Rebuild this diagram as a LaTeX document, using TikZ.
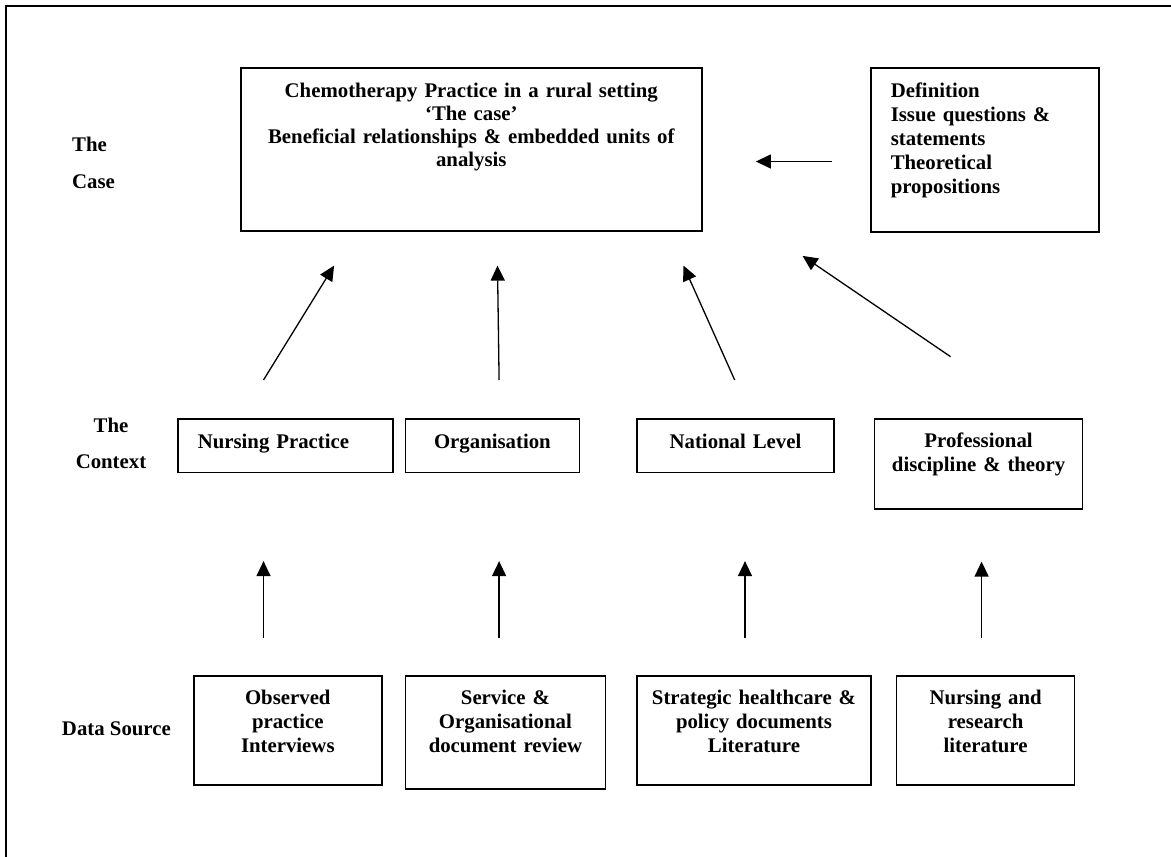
\documentclass[tikz,border=0pt]{standalone}
\usepackage{fontspec}
\setmainfont{Liberation Serif}
\usetikzlibrary{arrows.meta, positioning, calc}

\begin{document}
\begin{tikzpicture}[
    x=1pt, y=-1pt,
    font=\fontsize{20.8}{24}\selectfont\bfseries,
    box/.style={rectangle, draw, line width=1.6pt, inner xsep=4pt, inner ysep=0pt, align=center, text height=29.5pt, anchor=north west},
    rowlabel/.style={inner sep=0pt, text width=#1},
    arr/.style={-{Triangle[length=15pt, width=14pt]}, line width=1.3pt}
]
\useasboundingbox (0,0) rectangle (1171,857);
\draw[line width=1.5pt] (6,6) rectangle (1200,900);

% The case
\node[box, text width=453pt, text height=30pt, text depth=133pt, font=\fontsize{20.8}{23}\selectfont\bfseries] (case) at (240,67) {Chemotherapy Practice in a rural setting\\`The case'\\Beneficial relationships \& embedded units of\\analysis};
\node[box, align=left, inner xsep=20pt, text width=188pt, text height=30pt, text depth=134pt] (def) at (870,67) {Definition\\Issue questions \&\\statements\\Theoretical\\propositions};

% The context
\node[box, align=left, inner xsep=20pt, text width=175pt, text depth=24pt] (nursing) at (177,418) {Nursing Practice};
\node[box, text width=166pt, text depth=24pt, right=11pt of nursing.north east, anchor=north west] (org) {Organisation};
\node[box, text width=189pt, text depth=24pt, right=56pt of org.north east, anchor=north west] (national) {National Level};
\node[box, text width=200pt, text height=29pt, text depth=61pt, right=39pt of national.north east, anchor=north west] (prof) {Professional\\discipline \& theory};

% Data sources
\node[box, text width=180pt, text height=29pt, text depth=80pt] (observed) at (193,675) {Observed\\practice\\Interviews};
\node[box, text width=192pt, text height=29pt, text depth=84pt, right=22pt of observed.north east, anchor=north west] (service) {Service \&\\Organisational\\document review};
\node[box, text width=226pt, text height=29pt, text depth=80pt, right=30pt of service.north east, anchor=north west] (strategic) {Strategic healthcare \&\\policy documents\\Literature};
\node[box, text width=170pt, text height=29pt, text depth=80pt, right=24pt of strategic.north east, anchor=north west] (nursinglit) {Nursing and\\research\\literature};

% Row labels
\node[rowlabel=70pt, align=left, anchor=base west] (caselbl) at (72,151.7) {The\\[13pt]Case};
\node[rowlabel=90pt, align=center, anchor=base] (ctxlbl) at (111,432.3) {The\\[12pt]Context};
\node[inner sep=0pt, anchor=base east] (srclbl) at (171,735.7) {Data Source};

% Arrows
\draw[arr] ($(def.west)+(-37.7,11.7)$) -- ($(case.east)+(53.3,12.2)$);
\draw[arr] ($(nursing.north)+(-21.8,-38)$) -- ($(case.south)+(-137.2,34)$);
\draw[arr] ($(org.north)+(6.7,-38)$) -- ($(case.south)+(26.2,34)$);
\draw[arr] ($(national.north)+(-0.8,-38)$) -- ($(case.south)+(212.2,34)$);
\draw[arr] ($(prof.north)+(-28,-61.3)$) -- ($(case.south east)+(100,24.3)$);

\draw[arr] ($(observed.north)+(-24.3,-37)$) -- ($(nursing.south)+(-21.8,88)$);
\draw[arr] ($(service.north)+(-6.3,-37)$) -- ($(org.south)+(6.7,88)$);
\draw[arr] ($(strategic.north)+(-9,-37)$) -- ($(national.south)+(9.5,88)$);
\draw[arr] ($(nursinglit.north)+(-4,-37)$) -- ($(prof.south)+(3,52)$);

\end{tikzpicture}
\end{document}
